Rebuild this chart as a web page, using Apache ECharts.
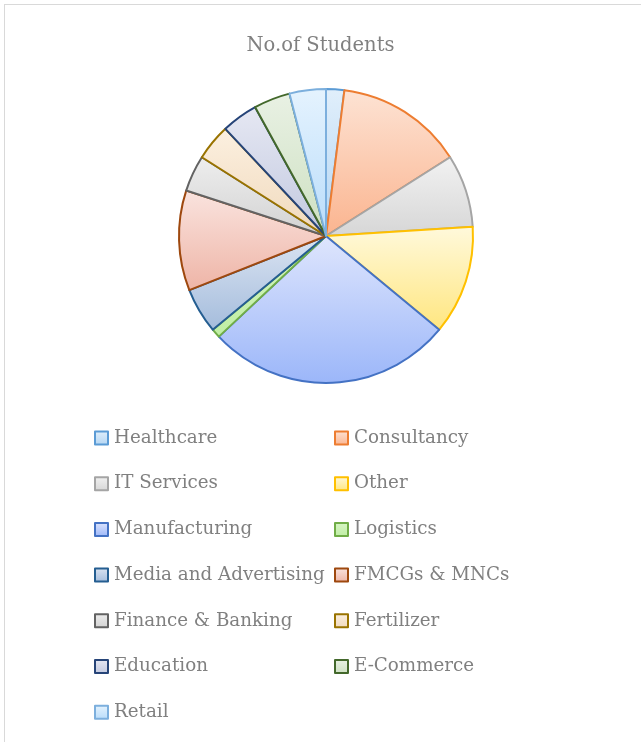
<!DOCTYPE html>
<html>
<head>
<meta charset="utf-8">
<script src="https://cdn.jsdelivr.net/npm/echarts@6/dist/echarts.min.js"></script>
<style>
  html, body { margin: 0; padding: 0; background: #ffffff; }
  #frame { position: absolute; left: 4px; top: 4px; width: 660px; height: 760px; border: 1px solid #d9d9d9; box-sizing: border-box; }
  #chart { position: absolute; left: 0; top: 0; width: 641px; height: 742px; }
</style>
</head>
<body>
<div id="frame"></div>
<div id="chart"></div>
<script>
// ---- data ----
const categories = ["Healthcare", "Consultancy", "IT Services", "Other", "Manufacturing", "Logistics",
  "Media and Advertising", "FMCGs & MNCs", "Finance & Banking", "Fertilizer", "Education", "E-Commerce", "Retail"];
const students = [2, 14, 8, 12, 27, 1, 5, 11, 4, 4, 4, 4, 4];
const titleText = "No.of Students";

// ---- styles (colours only) ----
const borderColors = ["#5B9BD5", "#ED7D31", "#A5A5A5", "#FFC000", "#4472C4", "#70AD47",
  "#255E91", "#9E480E", "#636363", "#997300", "#264478", "#43682B", "#7CAFDD"];
const lightFill = ["#e1effb", "#fde3d4", "#f2f2f2", "#fff9dc", "#dfe6fd", "#d8f5c6",
  "#dbe4f2", "#fae4df", "#eeeeee", "#fcf0e0", "#e6e8f3", "#e9f1e4", "#e5f3fe"];
const darkFill = ["#b3d5f3", "#fbb48f", "#d6d6d6", "#ffe67f", "#9bb6f9", "#bfeea3",
  "#a4bcdc", "#eeb4a6", "#d2d2d2", "#f0d9bc", "#c1c8df", "#cde0c1", "#b9dcfa"];

const font = "'DejaVu Serif', serif";
const textColor = "#808080";

const pieData = categories.map((name, i) => ({
  name: name,
  value: students[i],
  itemStyle: {
    color: new echarts.graphic.LinearGradient(0, 0, 0, 1, [
      { offset: 0, color: lightFill[i] },
      { offset: 1, color: darkFill[i] }
    ]),
    borderColor: borderColors[i],
    borderWidth: 2
  }
}));

function legendItems(indices) {
  return indices.map(i => ({
    name: categories[i],
    icon: 'rect',
    itemStyle: {
      color: new echarts.graphic.LinearGradient(0, 0, 0, 1, [
        { offset: 0, color: lightFill[i] },
        { offset: 1, color: darkFill[i] }
      ]),
      borderColor: borderColors[i],
      borderWidth: 2
    }
  }));
}

const leftIdx = [0, 2, 4, 6, 8, 10, 12];
const rightIdx = [1, 3, 5, 7, 9, 11];

const legendCommon = {
  orient: 'vertical',
  top: 428,
  padding: 0,
  itemWidth: 13,
  itemHeight: 13,
  itemGap: 25.7,
  textStyle: { fontFamily: font, fontSize: 18.3, color: textColor, lineHeight: 20, padding: [0, 0, 0, 1] },
  selectedMode: false
};

const chart = echarts.init(document.getElementById('chart'), null, { renderer: 'canvas' });
chart.setOption({
  animation: false,
  backgroundColor: 'transparent',
  title: {
    text: titleText,
    left: 'center',
    top: 31,
    textStyle: { fontFamily: font, fontSize: 19.5, fontWeight: 'normal', color: textColor }
  },
  legend: [
    Object.assign({}, legendCommon, { left: 94, data: legendItems(leftIdx) }),
    Object.assign({}, legendCommon, { left: 334, data: legendItems(rightIdx) })
  ],
  series: [{
    type: 'pie',
    center: [326, 236],
    radius: 147,
    startAngle: 90,
    clockwise: true,
    label: { show: false },
    labelLine: { show: false },
    emphasis: { disabled: true },
    data: pieData
  }]
});
</script>
</body>
</html>
